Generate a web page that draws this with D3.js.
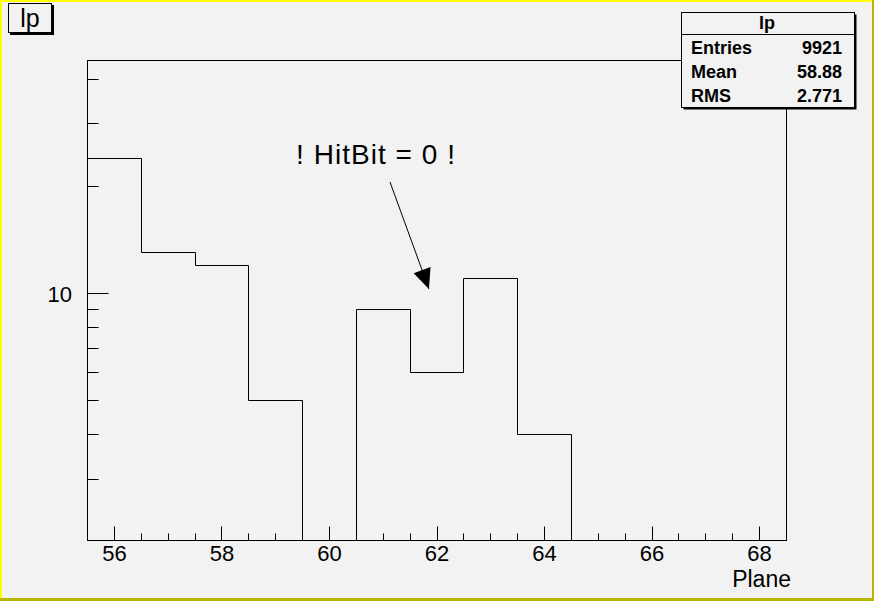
<!DOCTYPE html>
<html>
<head>
<meta charset="utf-8">
<script src="https://cdn.jsdelivr.net/npm/d3@7"></script>
<style>
  html, body { margin: 0; padding: 0; background: #f2f2f2; }
  svg { display: block; }
  text { font-family: "Liberation Sans", Arial, sans-serif; fill: #000; }
</style>
</head>
<body>
<svg id="chart" width="874" height="601"></svg>
<script>
// ---- data ----
const binCenters = [56, 57, 58, 59, 60, 61, 62, 63, 64, 65, 66, 67, 68];
const binCounts  = [24, 13, 12, 5, 0, 9, 6, 11, 4, 0, 0, 0, 0];
const xTickValues = [56, 58, 60, 62, 64, 66, 68];
const yLabelValues = [10];
const yMinorValues = [3, 4, 5, 6, 7, 8, 9, 20, 30, 40];
const histTitle = "lp";
const statsLabels = ["Entries", "Mean", "RMS"];
const statsValues = ["9921", "58.88", "2.771"];
const xTitle = "Plane";
const annotation = "! HitBit = 0 !";

// ---- layout ----
const W = 874, H = 601;
const frame = { left: 87.5, top: 60.5, right: 786.5, bottom: 540.5 };
const svg = d3.select("#chart");

svg.append("rect").attr("x", 0).attr("y", 0).attr("width", W).attr("height", H).attr("fill", "#f2f2f2");
// bevel border
svg.append("rect").attr("x", 0).attr("y", 0).attr("width", W).attr("height", 2).attr("fill", "#ffff00");
svg.append("rect").attr("x", 0).attr("y", 0).attr("width", 2).attr("height", H).attr("fill", "#ffff00");
svg.append("rect").attr("x", 0).attr("y", H - 3).attr("width", W).attr("height", 3).attr("fill", "#b8b800");
svg.append("rect").attr("x", W - 2).attr("y", 0).attr("width", 2).attr("height", H).attr("fill", "#b8b800");

const x = d3.scaleLinear().domain([55.5, 68.5]).range([frame.left, frame.right]);
const y = d3.scaleLog().domain([2.02, 45.2]).range([frame.bottom, frame.top]);

// frame
svg.append("rect")
  .attr("x", frame.left).attr("y", frame.top)
  .attr("width", frame.right - frame.left).attr("height", frame.bottom - frame.top)
  .attr("fill", "#f2f2f2").attr("stroke", "#000").attr("stroke-width", 1);

// histogram path
const snap = v => Math.round(v - 0.5) + 0.5;
const yv = v => v > y.domain()[0] ? snap(y(v)) : frame.bottom;
let pts = [];
binCenters.forEach((c, i) => {
  pts.push([snap(x(c - 0.5)), yv(binCounts[i])]);
  pts.push([snap(x(c + 0.5)), yv(binCounts[i])]);
});
pts.unshift([snap(x(binCenters[0] - 0.5)), frame.bottom]);
pts.push([snap(x(binCenters[binCenters.length - 1] + 0.5)), frame.bottom]);
svg.append("path")
  .attr("d", d3.line()(pts))
  .attr("fill", "none").attr("stroke", "#000").attr("stroke-width", 1);

// x axis ticks
const xMinor = d3.range(55.5, 68.51, 0.5).filter(v => !xTickValues.includes(v));
const xAx = svg.append("g");
xMinor.forEach(v => {
  xAx.append("line").attr("x1", snap(x(v))).attr("x2", snap(x(v))).attr("y1", frame.bottom).attr("y2", frame.bottom - 7).attr("stroke", "#000");
});
xTickValues.forEach(v => {
  xAx.append("line").attr("x1", snap(x(v))).attr("x2", snap(x(v))).attr("y1", frame.bottom).attr("y2", frame.bottom - 14).attr("stroke", "#000");
  svg.append("text").attr("x", x(v)).attr("y", 561).attr("text-anchor", "middle")
    .attr("font-size", 22).text(v);
});
svg.append("text").attr("x", 791).attr("y", 587).attr("text-anchor", "end").attr("font-size", 23).text(xTitle);

// y axis ticks
const yAx = svg.append("g");
yMinorValues.forEach(v => {
  yAx.append("line").attr("x1", frame.left).attr("x2", frame.left + 11).attr("y1", snap(y(v))).attr("y2", snap(y(v))).attr("stroke", "#000");
});
yLabelValues.forEach(v => {
  yAx.append("line").attr("x1", frame.left).attr("x2", frame.left + 21).attr("y1", snap(y(v))).attr("y2", snap(y(v))).attr("stroke", "#000");
  svg.append("text").attr("x", 72).attr("y", y(v) + 9).attr("text-anchor", "end").attr("font-size", 22).text(v);
});

// title box
svg.append("rect").attr("x", 10).attr("y", 5).attr("width", 44).attr("height", 30).attr("fill", "#000");
svg.append("rect").attr("x", 8.5).attr("y", 3.5).attr("width", 43).attr("height", 29).attr("fill", "#f2f2f2").attr("stroke", "#000");
svg.append("text").attr("x", 30).attr("y", 27).attr("text-anchor", "middle").attr("font-size", 25).text(histTitle);

// stats box
const sb = { x: 681.5, y: 12.5, w: 173, h: 95 };
svg.append("rect").attr("x", sb.x + 2).attr("y", sb.y + 2).attr("width", sb.w).attr("height", sb.h).attr("fill", "#000");
svg.append("rect").attr("x", sb.x).attr("y", sb.y).attr("width", sb.w).attr("height", sb.h).attr("fill", "#f2f2f2").attr("stroke", "#000");
svg.append("line").attr("x1", sb.x).attr("x2", sb.x + sb.w).attr("y1", 34.5).attr("y2", 34.5).attr("stroke", "#000");
svg.append("text").attr("x", 767).attr("y", 29).attr("text-anchor", "middle").attr("font-size", 18).attr("font-weight", "bold").text(histTitle);
statsLabels.forEach((l, i) => {
  svg.append("text").attr("x", 691).attr("y", 54 + i * 24).attr("font-size", 18).attr("font-weight", "bold").text(l);
  svg.append("text").attr("x", 842).attr("y", 54 + i * 24).attr("text-anchor", "end").attr("font-size", 18).attr("font-weight", "bold").text(statsValues[i]);
});

// annotation
svg.append("text").attr("x", 296).attr("y", 164).attr("font-size", 28)
  .attr("textLength", 159).attr("lengthAdjust", "spacing").text(annotation);
const ax0 = [390, 182], ax1 = [x(61.85), y(10.3)];
svg.append("line").attr("x1", ax0[0]).attr("y1", ax0[1]).attr("x2", ax1[0]).attr("y2", ax1[1]).attr("stroke", "#000").attr("stroke-width", 1);
// arrowhead
const ang = Math.atan2(ax1[1] - ax0[1], ax1[0] - ax0[0]);
const L = 20, hw = 9;
const bx = ax1[0] - L * Math.cos(ang), by = ax1[1] - L * Math.sin(ang);
const head = [
  [ax1[0], ax1[1]],
  [bx + hw * Math.sin(ang), by - hw * Math.cos(ang)],
  [bx - hw * Math.sin(ang), by + hw * Math.cos(ang)]
];
svg.append("path").attr("d", d3.line()(head) + "Z").attr("fill", "#000");
</script>
</body>
</html>
